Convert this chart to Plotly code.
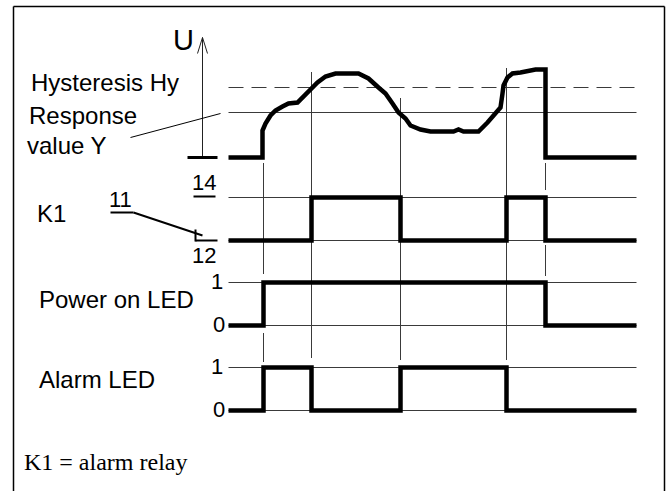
import plotly.graph_objects as go

W, H = 668, 491

# ---------------- data ----------------
# time axis in arbitrary units (0 = start of traces, 408 = end)
t_end = 408
event_times = [35, 83, 172, 278, 317]          # t1 .. t5
T1, T2, T3, T4, T5 = event_times

# measured voltage U (arbitrary units, 0 = baseline)
u_times = [0, 34, 34, 37, 42, 47, 54, 60, 69, 74, 82, 89, 97, 107, 130, 140, 150,
           157, 164, 170, 177, 182, 192, 202, 225, 230, 235, 250, 259, 267, 272,
           274, 275, 279, 284, 292, 307, 317, 317, 408]
u_values = [0, 0, 2.7, 3.4, 4.2, 4.7, 5.1, 5.4, 5.5, 6.0, 6.9, 7.5, 8.1, 8.4, 8.4,
            7.9, 7.0, 6.4, 5.4, 4.5, 3.9, 3.2, 2.8, 2.6, 2.6, 2.8, 2.6, 2.6, 3.5,
            4.4, 5.0, 6.4, 7.2, 8.0, 8.4, 8.5, 8.8, 8.8, 0, 0]
response_value_Y = 4.5
hysteresis_Hy = 7.0

# digital states (step after each time)
k1_times = [0, T2, T3, T4, T5, t_end]
k1_levels = [0, 1, 0, 1, 0, 0]
power_times = [0, T1, T5, t_end]
power_levels = [0, 1, 0, 0]
alarm_times = [0, T1, T2, T3, T4, t_end]
alarm_levels = [0, 1, 0, 1, 0, 0]

lane_labels = ["K1", "Power on LED", "Alarm LED"]
k1_contacts = ["14", "11", "12"]
level_labels = ["1", "0"]

# ---------------- layout helpers ----------------
THICK = dict(color="black", width=4.5)
THIN = dict(color="#3a3a3a", width=1)
SANS = "Liberation Sans, Arial, sans-serif"
SERIF = "Liberation Serif, Times New Roman, serif"


def px_x(p):
    return p / W


def px_y(p):
    return 1 - p / H


def lane_axis(base_px, unit_px, top_px, bottom_px):
    base_px += 0.5   # pixel-centre alignment for crisp 1px lines
    return dict(domain=[px_y(bottom_px), px_y(top_px)],
                range=[(base_px - bottom_px) / unit_px, (base_px - top_px) / unit_px],
                visible=False, anchor="x", fixedrange=True)


fig = go.Figure()

# U lane
fig.add_trace(go.Scatter(x=[0, t_end], y=[hysteresis_Hy] * 2, mode="lines",
                         line=dict(color="#3a3a3a", width=1, dash="15px,8px"), yaxis="y"))
fig.add_trace(go.Scatter(x=[0, t_end], y=[response_value_Y] * 2, mode="lines",
                         line=THIN, yaxis="y"))
fig.add_trace(go.Scatter(x=u_times, y=u_values, mode="lines", line=THICK, yaxis="y"))

# digital lanes
for times, levels, ax in [(k1_times, k1_levels, "y2"),
                          (power_times, power_levels, "y3"),
                          (alarm_times, alarm_levels, "y4")]:
    for lv in (0, 1):
        fig.add_trace(go.Scatter(x=[0, t_end], y=[lv, lv], mode="lines",
                                 line=THIN, yaxis=ax))
    fig.add_trace(go.Scatter(x=times, y=levels, mode="lines", line=THICK,
                             line_shape="hv", yaxis=ax))

shapes = []


def seg(x0, y0, x1, y1, width=1, color="#3a3a3a"):
    shapes.append(dict(type="line", xref="paper", yref="paper",
                       x0=px_x(x0 + 0.5), y0=px_y(y0 + 0.5),
                       x1=px_x(x1 + 0.5), y1=px_y(y1 + 0.5),
                       line=dict(color=color, width=width), layer="below"))


# vertical time guides (x from data, vertical extent is layout)
guide_extents = {
    T1: [(163, 274), (333, 362)],
    T2: [(72, 358)],
    T3: [(98, 360)],
    T4: [(68, 360)],
    T5: [(163, 190), (245, 276)],
}
for t, spans in guide_extents.items():
    for (a, b) in spans:
        shapes.append(dict(type="line", xref="x", yref="paper", x0=t, x1=t,
                           y0=px_y(a), y1=px_y(b), line=THIN, layer="below"))

# frame
seg(13, 6, 13, 491, 1.5, "black")
seg(13, 6, 664, 6, 1.5, "black")
seg(664, 6, 664, 491, 1.5, "black")

# U axis with open arrow head and bottom bar
seg(202, 37, 202, 157, 1, "#222222")
seg(202, 37, 197, 53, 1, "#222222")
seg(202, 37, 207, 53, 1, "#222222")
seg(187, 157, 217, 157, 3, "black")

# leader line for response value
seg(130, 137, 220, 113, 1, "black")

# K1 contact symbol
seg(193, 196, 215, 196, 2, "black")      # 14 underline
seg(110, 212, 133, 212, 2, "black")      # 11 underline
seg(133, 212, 202, 235, 2, "black")      # switch blade
seg(195, 229, 195, 241, 2, "black")
seg(195, 240, 217, 240, 2, "black")

annotations = []


def text(s, x, y, size=24, anchor="left", font=SANS):
    annotations.append(dict(text=s, x=px_x(x), y=px_y(y), xref="paper", yref="paper",
                            xanchor=anchor, yanchor="middle", showarrow=False,
                            font=dict(family=font, size=size, color="black")))


text("U", 171, 40, size=29)
text("Hysteresis Hy", 29, 82)
text("Response", 27, 116)
text("value Y", 25, 145)
text(lane_labels[0], 35, 213)
text(k1_contacts[0], 190, 182, size=22)
text(k1_contacts[1], 107, 199, size=22)
text(k1_contacts[2], 190, 256, size=22)
text(lane_labels[1], 37, 299)
text(level_labels[0], 225, 281, size=22, anchor="right")
text(level_labels[1], 227, 324, size=22, anchor="right")
text(lane_labels[2], 37, 379)
text(level_labels[0], 225, 366, size=22, anchor="right")
text(level_labels[1], 227, 409, size=22, anchor="right")
text("K1 = alarm relay", 22, 462, size=24, font=SERIF)

fig.update_layout(
    width=W, height=H,
    margin=dict(l=0, r=0, t=0, b=0),
    paper_bgcolor="white", plot_bgcolor="white",
    showlegend=False,
    xaxis=dict(range=[-228.5, W - 228.5], domain=[0, 1], visible=False, fixedrange=True),
    yaxis=lane_axis(157, 10, 20, 175),
    yaxis2=lane_axis(240, 43, 185, 250),
    yaxis3=lane_axis(325, 43, 270, 335),
    yaxis4=lane_axis(410, 43, 355, 420),
    shapes=shapes,
    annotations=annotations,
)

fig.write_html("out.html", config={"displayModeBar": False},
               post_script="document.body.style.margin='0';document.body.style.overflow='hidden';")
